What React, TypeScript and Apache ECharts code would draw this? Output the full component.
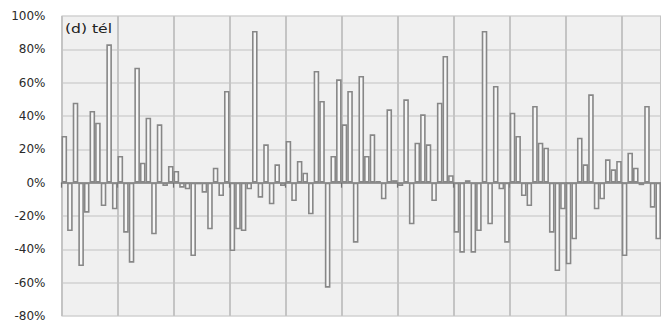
import React, { useEffect, useRef } from "react";
import * as echarts from "echarts";

// Winter anomaly (%) per season
const values: number[] = [
  28, -29, 48, -50, -18, 43, 36, -14, 83, -16,
  16, -30, -48, 69, 12, 39, -31, 35, -2, 10,
  7, -3, -4, -44, -1, -6, -28, 9, -8, 55,
  -41, -28, -29, -4, 91, -9, 23, -13, 11, -2,
  25, -11, 13, 6, -19, 67, 49, -63, 16, 62,
  35, 55, -36, 64, 16, 29, 1, -10, 44, 1.5,
  -2, 50, -25, 24, 41, 23, -11, 48, 76, 4.5,
  -30, -42, 1.5, -42, -29, 91, -25, 58, -4, -36,
  42, 28, -8, -14, 46, 24, 21, -30, -53, -16,
  -49, -34, 27, 11, 53, -16, -10, 14, 8, 13,
  -44, 18, 9, -1.5, 46, -15, -34,
];

const firstYear = 1901;
const categories: string[] = values.map((_, i) => String(firstYear + i));

const yMin = -80;
const yMax = 100;
const yStep = 20;
const panelLabel = "(d) tél";
const tickEvery = 10;

export default function App() {
  const ref = useRef<HTMLDivElement | null>(null);

  useEffect(() => {
    if (!ref.current) return;
    const chart = echarts.init(ref.current, null, { renderer: "svg" });
    chart.setOption({
      animation: false,
      backgroundColor: "#ffffff",
      grid: {
        left: 61.5,
        right: -2,
        top: 16,
        bottom: 3,
        show: true,
        backgroundColor: "#f0f0f0",
        borderWidth: 0,
      },
      xAxis: [
        {
          type: "category",
          data: categories,
          boundaryGap: true,
          axisLine: { show: false, onZero: false },
          axisTick: { show: false },
          axisLabel: { show: false },
          splitLine: { show: false },
        },
        {
          // position helper: one step per season, used for the decade grid lines and ticks
          type: "value",
          position: "bottom",
          min: 0,
          max: categories.length,
          interval: tickEvery,
          axisLine: { show: true, onZero: true, lineStyle: { color: "#808080", width: 1.5 } },
          axisTick: { show: true, length: 5, lineStyle: { color: "#707070", width: 1.2 } },
          axisLabel: { show: false },
          splitLine: { show: true, lineStyle: { color: "#c4c4c4", width: 2 } },
          z: 1,
        },
      ],
      yAxis: {
        type: "value",
        min: yMin,
        max: yMax,
        interval: yStep,
        axisLine: { show: false },
        axisTick: { show: false },
        axisLabel: {
          formatter: "{value}%",
          color: "#2a2a2a",
          fontFamily: "DejaVu Sans",
          fontSize: 12,
          margin: 16,
        },
        splitLine: { show: true, lineStyle: { color: "#d2d2d2", width: 1.5 } },
      },
      graphic: [
        {
          type: "text",
          left: 65,
          top: 22,
          scaleX: 1.2,
          style: {
            text: panelLabel,
            fill: "#222222",
            fontFamily: "DejaVu Sans",
            fontSize: 13,
          },
          z: 10,
        },
      ],
      series: [
        {
          type: "bar",
          xAxisIndex: 0,
          data: values,
          barCategoryGap: "0%",
          z: 2,
          itemStyle: {
            color: "#f7f7f7",
            borderColor: "#878787",
            borderWidth: 1.6,
          },
        },
      ],
    });
    return () => chart.dispose();
  }, []);

  return (
    <div
      ref={ref}
      style={{ position: "absolute", left: 0, top: 0, width: 661, height: 322 }}
    />
  );
}
